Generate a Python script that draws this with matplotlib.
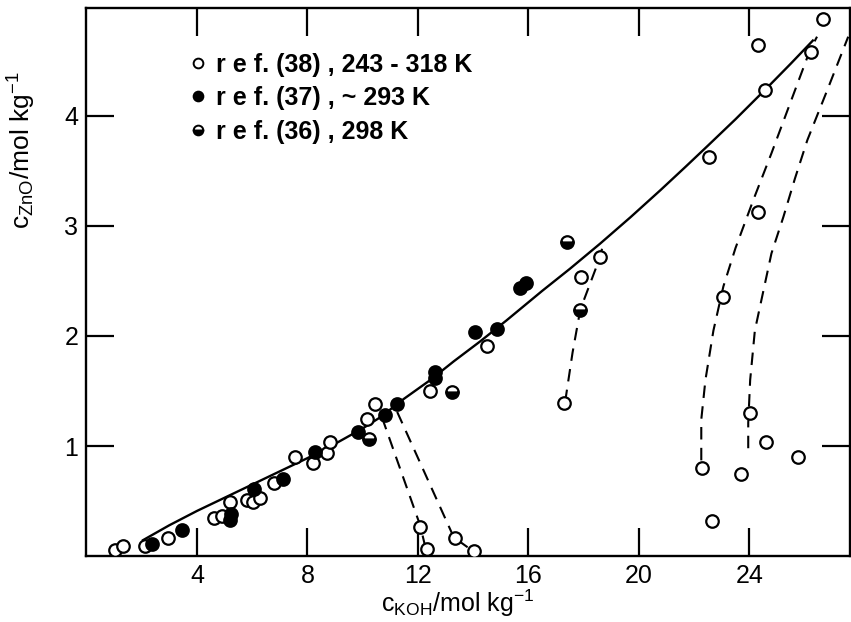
import matplotlib
matplotlib.use("Agg")
import matplotlib.pyplot as plt
from matplotlib.lines import Line2D

plt.rcParams['font.family'] = ['Liberation Sans', 'DejaVu Sans']
plt.rcParams['mathtext.default'] = 'regular'

# ref.(38), 243 - 318 K  (open circles)
koh_38 = [1.03, 1.32, 2.13, 2.95, 4.6, 4.9, 5.2, 5.8, 6.04, 6.28, 6.8, 7.55,
          8.2, 8.7, 8.82, 10.15, 10.45, 12.08, 12.33, 12.45, 13.35, 14.04,
          14.5, 17.3, 17.92, 18.6, 22.3, 22.55, 22.66, 23.06, 23.7, 24.04,
          24.33, 24.33, 24.58, 24.6, 25.78, 26.25, 26.65]
zno_38 = [0.055, 0.09, 0.09, 0.16, 0.35, 0.36, 0.49, 0.51, 0.49, 0.53, 0.66, 0.9,
          0.85, 0.94, 1.04, 1.25, 1.38, 0.26, 0.06, 1.5, 0.16, 0.05,
          1.91, 1.39, 2.54, 2.72, 0.8, 3.63, 0.32, 2.35, 0.75, 1.3,
          3.13, 4.64, 4.24, 1.04, 0.9, 4.58, 4.88]

# ref.(37), ~293 K  (filled circles)
koh_37 = [2.37, 3.45, 5.2, 5.25, 6.05, 7.1, 8.28, 9.83, 10.82, 11.24,
          12.63, 12.63, 14.07, 14.87, 15.7, 15.9]
zno_37 = [0.11, 0.24, 0.33, 0.38, 0.61, 0.70, 0.95, 1.13, 1.28, 1.38,
          1.62, 1.67, 2.04, 2.06, 2.44, 2.48]

# ref.(36), 298 K  (half-filled circles)
koh_36 = [10.24, 13.24, 17.4, 17.88]
zno_36 = [1.06, 1.49, 2.85, 2.24]

# solubility curve (solid)
curve_koh = [2.05, 3.0, 4.0, 5.0, 6.0, 7.0, 8.0, 9.0, 10.0, 10.63, 11.5, 12.45,
             13.3, 14.25, 15.2, 16.5, 17.5, 18.6, 19.7, 20.78, 21.7, 22.5,
             23.5, 24.6, 25.5, 26.3]
curve_zno = [0.145, 0.28, 0.41, 0.53, 0.65, 0.77, 0.89, 1.02, 1.16, 1.26, 1.43, 1.6,
             1.77, 1.95, 2.14, 2.41, 2.61, 2.84, 3.08, 3.325, 3.54, 3.73,
             3.97, 4.245, 4.475, 4.685]

# supersaturation branches (dashed)
branch_a_koh = [10.7, 12.08, 12.3]
branch_a_zno = [1.26, 0.28, 0.05]
branch_b_koh = [11.25, 13.3, 13.8]
branch_b_zno = [1.31, 0.17, 0.08]
branch_c_koh = [17.33, 17.6, 17.88, 18.3, 18.6, 18.7]
branch_c_zno = [1.40, 1.85, 2.24, 2.52, 2.72, 2.83]
branch_d_koh = [22.26, 22.26, 22.41, 22.7, 23.06, 23.5, 24.15, 24.8, 25.38, 26.2, 26.45]
branch_d_zno = [0.87, 1.24, 1.6, 2.05, 2.45, 2.8, 3.24, 3.66, 4.05, 4.6, 4.72]
branch_e_koh = [23.96, 23.96, 24.03, 24.2, 24.5, 24.8, 25.23, 25.65, 26.1, 26.83, 27.58]
branch_e_zno = [0.98, 1.21, 1.6, 2.05, 2.4, 2.75, 3.08, 3.43, 3.78, 4.24, 4.72]

x_ticks = [4, 8, 12, 16, 20, 24]
y_ticks = [1, 2, 3, 4]

fig = plt.figure(figsize=(8.51, 6.22), dpi=100)
ax = fig.add_axes([0.1016, 0.106, 0.8974, 0.881])

ax.plot(curve_koh, curve_zno, color='black', lw=1.7, zorder=2)
dash = dict(color='black', lw=1.5, dashes=(6, 4), zorder=2)
for bx, by in [(branch_a_koh, branch_a_zno), (branch_b_koh, branch_b_zno),
               (branch_c_koh, branch_c_zno), (branch_d_koh, branch_d_zno),
               (branch_e_koh, branch_e_zno)]:
    ax.plot(bx, by, **dash)

mk = dict(ls='none', marker='o', ms=9, mec='black', mew=1.6, zorder=3)
ax.plot(koh_38, zno_38, mfc='white', **mk)
ax.plot(koh_37, zno_37, mfc='black', **mk)
ax.plot(koh_36, zno_36, mfc='black', fillstyle='bottom', mfcalt='white', **mk)

lk = dict(ls='none', marker='o', ms=7, mec='black', mew=1.4)
handles = [Line2D([], [], mfc='white', **lk),
           Line2D([], [], mfc='black', **lk),
           Line2D([], [], mfc='black', fillstyle='bottom', mfcalt='white', **lk)]
labels = ['r e f. (38) , 243 - 318 K', 'r e f. (37) , ~ 293 K', 'r e f. (36) , 298 K']
ax.legend(handles, labels, loc='upper left', bbox_to_anchor=(0.125, 0.937),
          frameon=False, prop={'size': 18, 'weight': 'bold'},
          handlelength=0.5, handletextpad=0.45,
          labelspacing=0.38, borderaxespad=0)

ax.set_xlim(0, 27.65)
ax.set_ylim(0, 4.98)
ax.set_xticks(x_ticks)
ax.set_xticklabels([str(t) for t in x_ticks])
ax.set_yticks(y_ticks)
ax.set_yticklabels([str(t) for t in y_ticks])
ax.tick_params(direction='in', length=20, width=1.6, labelsize=18,
               top=True, right=True, pad=6)
for s in ax.spines.values():
    s.set_linewidth(1.7)

ax.set_xlabel(r'$c_{KOH}$/mol kg$^{-1}$', fontsize=18)
ax.xaxis.set_label_coords(0.486, -0.058)
ax.set_ylabel(r'$c_{ZnO}$/mol kg$^{-1}$', fontsize=19)
ax.yaxis.set_label_coords(-0.064, 0.74)

fig.savefig('out.png', dpi=100)
